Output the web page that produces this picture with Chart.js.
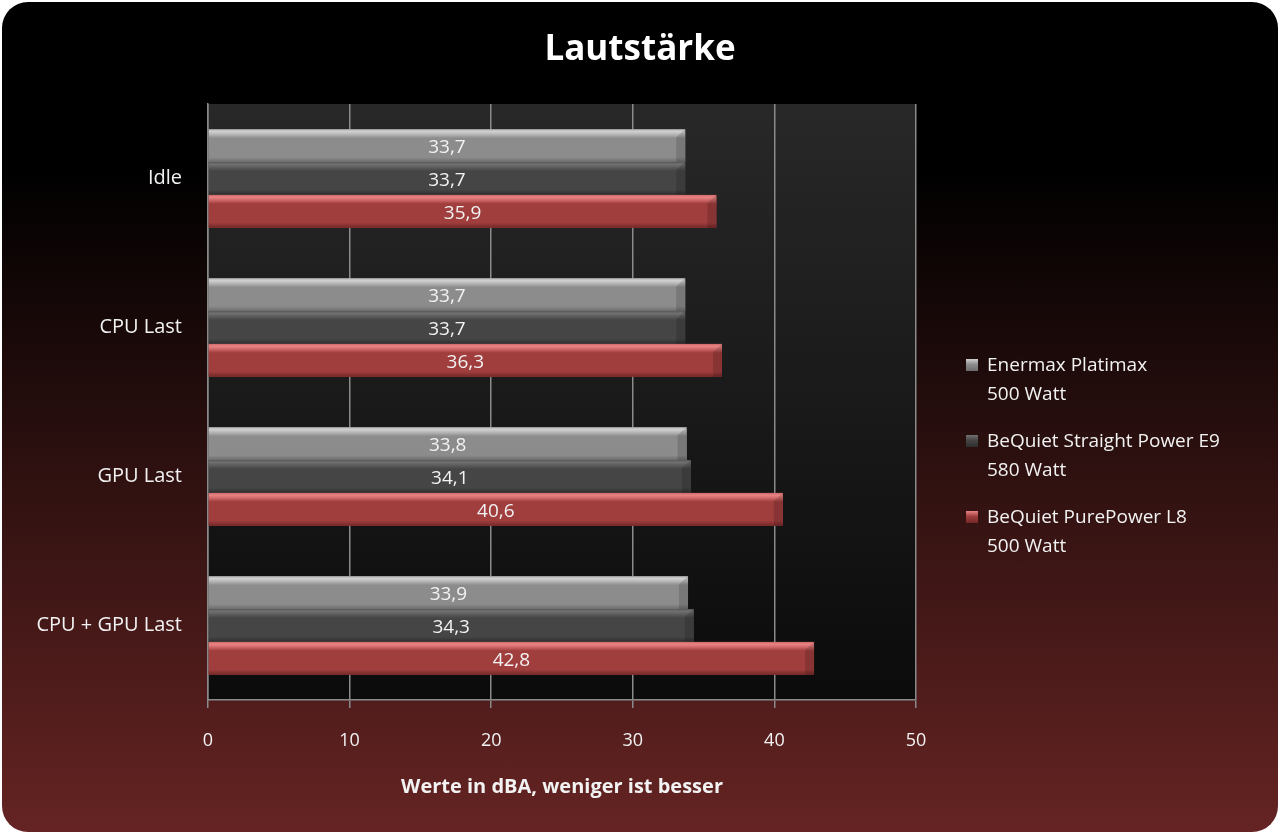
<!DOCTYPE html>
<html>
<head>
<meta charset="utf-8">
<script src="https://cdn.jsdelivr.net/npm/chart.js@4"></script>
<style>
  body { margin: 0; background: #fff; }
  #box {
    position: absolute; left: 2px; top: 2px; width: 1276px; height: 830px;
    border-radius: 26px; overflow: hidden;
    background: linear-gradient(#000 0%, #000 20%, #652423 100%);
  }
  #chart { position: absolute; left: 0; top: 0; }
  #legend {
    position: absolute; left: 964px; top: 348px;
    font-family: "Open Sans", sans-serif; font-size: 19px; color: #f2f2f2;
  }
  .item { position: relative; padding-left: 21px; line-height: 29px; margin-bottom: 18px; }
  .mark { position: absolute; left: 0; top: 9px; width: 12px; height: 12px; }
</style>
</head>
<body>
<div id="box">
  <canvas id="chart" width="1276" height="830"></canvas>
  <div id="legend"></div>
</div>
<script>
const categories = ["Idle", "CPU Last", "GPU Last", "CPU + GPU Last"];
const seriesNames = [
  ["Enermax Platimax", "500 Watt"],
  ["BeQuiet Straight Power E9", "580 Watt"],
  ["BeQuiet PurePower L8", "500 Watt"]
];
const enermax = [33.7, 33.7, 33.8, 33.9];
const straightPower = [33.7, 33.7, 34.1, 34.3];
const purePower = [35.9, 36.3, 40.6, 42.8];
const xMin = 0, xMax = 50, xStep = 10;

const font = "'Open Sans', sans-serif";
const textColor = "#f2f2f2";
const gridColor = "#8a8a8a";

// base, top highlight, dark edge for each series
const styles = [
  { base: "#8c8c8c", hi: "#d0d0d0", mid: "#b4b4b4", dark: "#6c6c6c" },
  { base: "#454545", hi: "#707070", mid: "#5c5c5c", dark: "#2e2e2e" },
  { base: "#a03d3d", hi: "#ea8484", mid: "#cf6868", dark: "#742828" }
];

// plot background
const plotBg = {
  id: "plotBg",
  beforeDraw(chart) {
    const { ctx, chartArea: a } = chart;
    const g = ctx.createLinearGradient(0, a.top, 0, a.bottom);
    g.addColorStop(0, "#282828");
    g.addColorStop(1, "#0b0b0b");
    ctx.save();
    ctx.fillStyle = g;
    ctx.fillRect(a.left, a.top, a.right - a.left, a.bottom - a.top);
    ctx.restore();
  }
};

// bevel look + value labels on the bars
const bevel = {
  id: "bevel",
  afterDatasetsDraw(chart) {
    const ctx = chart.ctx;
    ctx.save();
    chart.data.datasets.forEach((ds, i) => {
      const st = styles[i];
      chart.getDatasetMeta(i).data.forEach((bar, j) => {
        const top = bar.y - bar.height / 2;
        const h = bar.height;
        const left = bar.base, right = bar.x;
        const g = ctx.createLinearGradient(0, top, 0, top + h);
        g.addColorStop(0, st.mid);
        g.addColorStop(0.07, st.hi);
        g.addColorStop(0.16, st.mid);
        g.addColorStop(0.27, st.base);
        g.addColorStop(0.85, st.base);
        g.addColorStop(1, st.dark);
        ctx.fillStyle = g;
        ctx.fillRect(left, top, right - left, h);
        // right end chamfer
        ctx.fillStyle = "rgba(0,0,0,0.14)";
        ctx.beginPath();
        ctx.moveTo(right - 9, top + 8);
        ctx.lineTo(right, top);
        ctx.lineTo(right, top + h);
        ctx.lineTo(right - 9, top + h);
        ctx.closePath();
        ctx.fill();
        // value
        ctx.fillStyle = textColor;
        ctx.font = "19px " + font;
        ctx.textAlign = "center";
        ctx.textBaseline = "middle";
        ctx.fillText(ds.data[j].toFixed(1).replace(".", ","), (left + right) / 2, bar.y + 2);
      });
    });
    ctx.restore();
  }
};

const values = [enermax, straightPower, purePower];

new Chart(document.getElementById("chart"), {
  type: "bar",
  data: {
    labels: categories,
    datasets: values.map((v, i) => ({
      label: seriesNames[i].join(" "),
      data: v,
      backgroundColor: styles[i].base,
      categoryPercentage: 0.66,
      barPercentage: 1
    }))
  },
  options: {
    indexAxis: "y",
    responsive: false,
    animation: false,
    layout: { padding: 0 },
    plugins: {
      legend: { display: false },
      tooltip: { enabled: false },
      title: {
        display: true,
        text: "Lautstärke",
        color: "#ffffff",
        font: { family: font, size: 35, weight: "bold" },
        padding: { top: 27, bottom: 33 }
      }
    },
    scales: {
      x: {
        min: xMin,
        max: xMax,
        ticks: { stepSize: xStep, color: textColor, font: { family: font, size: 18 }, padding: 22 },
        grid: { color: gridColor, lineWidth: 1.5, tickLength: 8 },
        border: { color: gridColor, width: 1.5 },
        title: {
          display: true,
          text: "Werte in dBA, weniger ist besser",
          color: textColor,
          font: { family: font, size: 20, weight: "bold" },
          padding: { top: 0, bottom: 33 }
        },
        afterFit(s) { s.height = 132; }
      },
      y: {
        ticks: { color: textColor, font: { family: font, size: 20 }, padding: 26 },
        grid: { display: false, drawTicks: false },
        border: { color: gridColor, width: 1.5 },
        afterFit(s) { s.width = 206; }
      },
      // empty space on the right for the legend
      yRight: {
        type: "category",
        position: "right",
        ticks: { display: false },
        grid: { display: false, drawTicks: false },
        border: { display: false },
        afterFit(s) { s.width = 362; }
      }
    }
  },
  plugins: [plotBg, bevel]
});

// legend
const legend = document.getElementById("legend");
seriesNames.forEach((lines, i) => {
  const st = styles[i];
  const item = document.createElement("div");
  item.className = "item";
  item.innerHTML =
    '<span class="mark" style="background:linear-gradient(' + st.hi + ',' + st.base + ' 45%,' + st.dark + ')"></span>' +
    lines.join("<br>");
  legend.appendChild(item);
});
</script>
</body>
</html>
